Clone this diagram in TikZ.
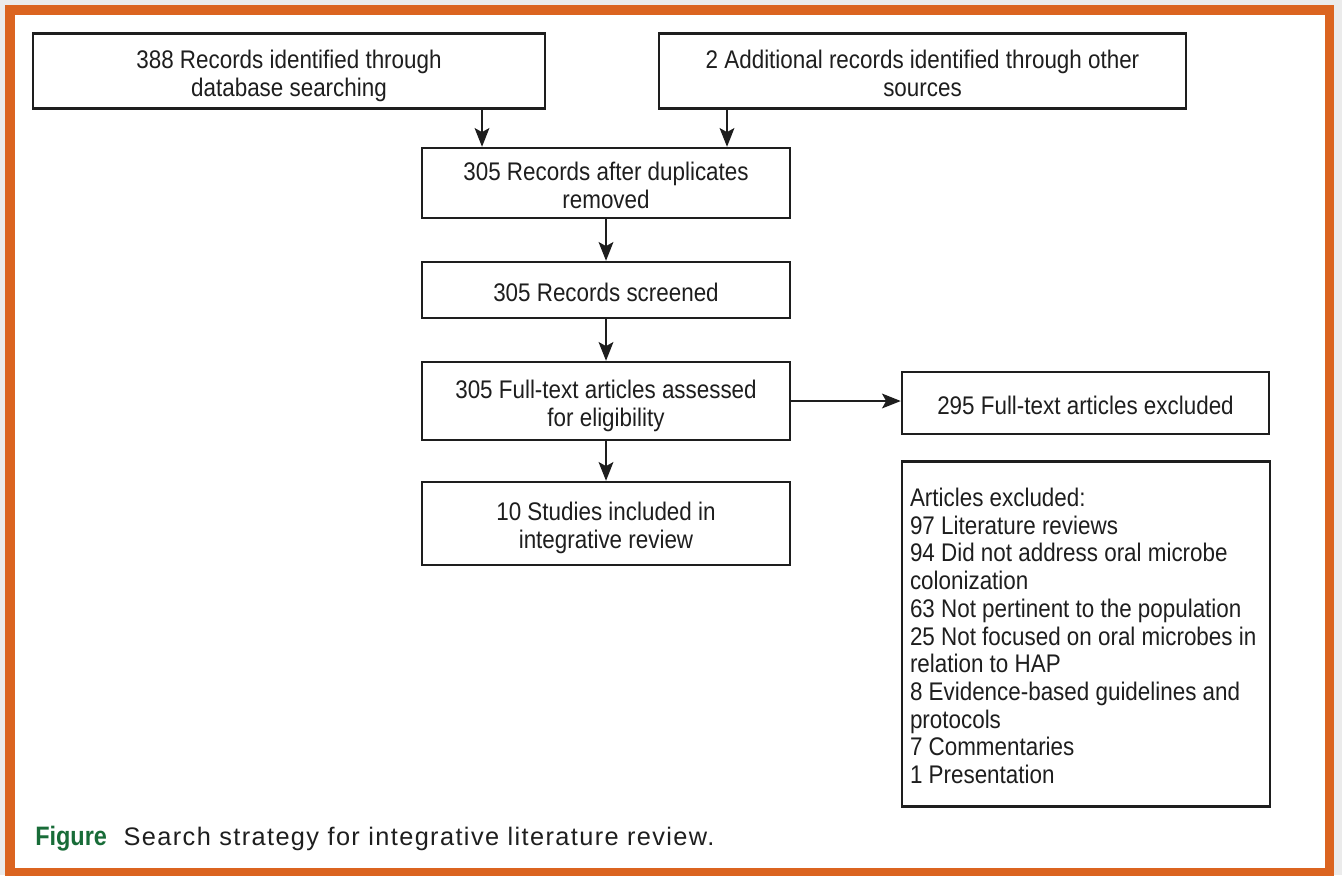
\documentclass[tikz,border=0pt]{standalone}
\usepackage{fontspec}
\setmainfont{Liberation Sans}[FakeStretch=0.88]
\newfontfamily\capfont{Liberation Sans}[LetterSpace=5.5]
\usepackage{tikz}
\usetikzlibrary{arrows.meta}
\usepackage{xcolor}
\definecolor{frameorange}{RGB}{219,100,32}
\definecolor{figgreen}{RGB}{24,108,56}
\definecolor{inkgrey}{RGB}{30,30,30}
\tikzset{
  box/.style={draw=inkgrey,line width=1.8pt,fill=white,text=inkgrey,align=flush center,
    inner sep=0pt,text width=340*0.75pt,font=\fontsize{19.1}{21}\selectfont,
    execute at begin node=\rule{0pt}{21.5pt},execute at end node=\rule[-5pt]{0pt}{5pt}},
  arr/.style={-{Stealth[length=14pt,width=11pt,inset=3pt]},line width=1.8pt,draw=inkgrey}
}

\begin{document}
\begin{tikzpicture}[x=0.75pt,y=-0.75pt]
\useasboundingbox (0,0) rectangle (1342,875);
\fill[black!8] (0,0) rectangle (1342,875);
\fill[frameorange] (5,5) rectangle (1334,876);
\fill[white] (15,15) rectangle (1325,868);
\node[box,text width=500*0.75pt,minimum width=512*0.75pt,minimum height=75*0.75pt] (ident) at (289,71) {388 Records identified through\\database searching};
\node[box,text width=515*0.75pt,minimum width=527*0.75pt,minimum height=75*0.75pt] (other) at (922.5,71) {2 Additional records identified through other\\sources};
\node[box,minimum width=368*0.75pt,minimum height=70*0.75pt] (dupl) at (606,183) {305 Records after duplicates\\removed};
\node[box,minimum width=368*0.75pt,minimum height=56*0.75pt] (screen) at (606,290) {305 Records screened};
\node[box,minimum width=368*0.75pt,minimum height=78*0.75pt] (full) at (606,401) {305 Full-text articles assessed\\for eligibility};
\node[box,minimum width=367*0.75pt,minimum height=62*0.75pt] (excl) at (1085.5,403) {295 Full-text articles excluded};
\node[box,minimum width=368*0.75pt,minimum height=83*0.75pt] (incl) at (606,523.5) {10 Studies included in\\integrative review};
\node[box,minimum width=368*0.75pt,minimum height=345*0.75pt,align=flush left,text width=352*0.75pt,
  execute at begin node={},execute at end node={},
  font=\fontsize{19.1}{20.8}\selectfont] (why) at (1086,634) {Articles excluded:\\
97 Literature reviews\\
94 Did not address oral microbe\\
colonization\\
63 Not pertinent to the population\\
25 Not focused on oral microbes in\\
relation to HAP\\
8 Evidence-based guidelines and\\
protocols\\
7 Commentaries\\
1 Presentation};
\coordinate (j1) at (482,0);
\coordinate (j2) at (727,0);
\draw[arr] (ident.south -| j1) -- (dupl.north -| j1);
\draw[arr] (other.south -| j2) -- (dupl.north -| j2);
\draw[arr] (dupl) -- (screen);
\draw[arr] (screen) -- (full);
\draw[arr] (full) -- (excl.west |- full);
\draw[arr] (full) -- (incl);
\node[anchor=base west,inner sep=0pt,text=inkgrey,font=\fontsize{19}{23}\selectfont] (cap) at (35,845)
  {\textcolor{figgreen}{\fontsize{20}{23}\selectfont\bfseries Figure}\hspace{12.5pt}{\capfont Search strategy for integrative literature review.}};
\end{tikzpicture}
\end{document}
